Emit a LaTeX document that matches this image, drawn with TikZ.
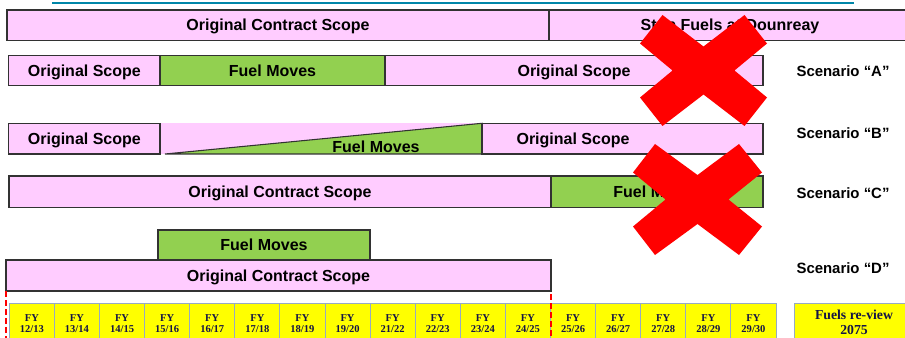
\documentclass[tikz,border=0pt]{standalone}
\usepackage{fontspec}
\newfontfamily\sansfam{Liberation Sans}
\newfontfamily\seriffam{Liberation Serif}
\definecolor{pinkc}{RGB}{255,204,255}
\definecolor{greenc}{RGB}{146,208,80}
\definecolor{yelc}{RGB}{255,255,0}
\definecolor{tealc}{RGB}{0,134,168}
\definecolor{boxline}{RGB}{50,50,50}
\definecolor{cellline}{RGB}{150,170,195}
\definecolor{navyc}{RGB}{20,20,70}
\definecolor{xred}{RGB}{255,0,0}
% \bx{style}{name}{x1}{y1}{x2}{y2}{text}  (coordinates in px)
\newcommand\bx[7]{\node[#1, minimum width={((#5)-(#3))*0.75pt}, minimum height={((#6)-(#4))*0.75pt}] (#2) at ({((#3)+(#5))/2},{((#4)+(#6))/2}) {#7};}
\begin{document}
\begin{tikzpicture}[x=0.75pt,y=-0.75pt,
 bar/.style={draw=boxline, line width=0.8pt, inner sep=0pt, text height=8.6pt, text depth=0pt, font=\sansfam\bfseries\fontsize{12pt}{14pt}\selectfont},
 pinkbar/.style={bar, fill=pinkc},
 greenbar/.style={bar, fill=greenc},
 bartext/.style={inner sep=0pt, text height=8.6pt, text depth=0pt, font=\sansfam\bfseries\fontsize{12pt}{14pt}\selectfont},
 scen/.style={inner sep=0pt, text height=8pt, text depth=0pt, font=\sansfam\bfseries\fontsize{11.2pt}{13pt}\selectfont},
 cell/.style={draw=cellline, line width=0.75pt, fill=yelc, inner sep=0pt, align=center, text=navyc, font=\seriffam\bfseries\fontsize{7.9pt}{8.25pt}\selectfont},
 review/.style={cell, font=\seriffam\bfseries\fontsize{10.3pt}{11.25pt}\selectfont},
 cross/.style={fill=xred, draw=none},
 cutline/.style={draw=xred, line width=1.5pt, dash pattern=on 4.5pt off 2.25pt},
 rule/.style={draw=tealc, line width=1.5pt}
]
\useasboundingbox (0,0) rectangle (905,338);

% top rule
\coordinate (r1) at (52,2.7);
\coordinate (r2) at (854,2.7);
\draw[rule] (r1) -- (r2);

% top bar
\bx{pinkbar}{top1}{7}{10}{549}{40.5}{Original Contract Scope}
\bx{pinkbar}{top2}{549}{10}{911}{40.5}{Stop Fuels at Dounreay}

% Scenario A
\bx{pinkbar}{a1}{8.7}{55.7}{160}{85.7}{Original Scope}
\bx{greenbar}{a2}{160}{55.7}{385}{85.7}{Fuel Moves}
\bx{pinkbar}{a3}{385}{55.7}{763}{85.7}{Original Scope}
\node[scen] (sa) at (843,71) {Scenario “A”};

% Scenario B
\fill[pinkc] (160,123.3) rectangle (482,154);
\bx{pinkbar}{b1}{8.7}{123.3}{160}{154}{Original Scope}
\filldraw[fill=greenc, draw=boxline, line width=0.8pt] (165,154) -- (482,123.3) -- (482,154) -- cycle;
\node[bartext] (b2) at (376,147) {Fuel Moves};
\bx{pinkbar}{b3}{482}{123.3}{763}{154}{}
\node[bartext] (b3t) at (573,139) {Original Scope};
\node[scen] (sb) at (843,133.5) {Scenario “B”};

% Scenario C
\bx{pinkbar}{c1}{9}{176}{551}{207.3}{Original Contract Scope}
\bx{greenbar}{c2}{551}{176}{763}{207.3}{Fuel Moves}
\node[scen] (sc) at (843,193.5) {Scenario “C”};

% Scenario D
\bx{greenbar}{d1}{158}{230}{370}{260}{Fuel Moves}
\bx{pinkbar}{d2}{6}{260}{551}{291}{Original Contract Scope}
\node[scen] (sd) at (843,268.5) {Scenario “D”};

% timeline
\foreach \a/\b [count=\i from 0] in {12/13,13/14,14/15,15/16,16/17,17/18,18/19,19/20,21/22,22/23,23/24,24/25,25/26,26/27,27/28,28/29,29/30}{
  \bx{cell}{fy\i}{9.3+45.1*\i}{303.3}{54.4+45.1*\i}{343.3}{FY\\\a/\b}
}
\bx{review}{rev}{794}{303.3}{914}{341.3}{Fuels re-view\\2075}

% red dashed limits
\coordinate (l1) at (6,291);
\coordinate (l2) at (6,340);
\coordinate (m1) at (551,294);
\coordinate (m2) at (551,340);
\draw[cutline] (l1) -- (l2);
\draw[cutline] (m1) -- (m2);

% red crosses
\fill[cross] (640,43.5) -- (662.5,15) -- (703.5,46.5) -- (744.5,15) -- (767,43.5) -- (734.5,70.5) -- (767,97.5) -- (744.5,126) -- (703.5,94.5) -- (662.5,126) -- (640,97.5) -- (672.5,70.5) -- cycle;
\fill[cross] (633,172.5) -- (655,144) -- (697.5,175) -- (739,144) -- (762,172.5) -- (728.5,199.5) -- (762,226.5) -- (739,255) -- (697.5,224) -- (655,255) -- (633,226.5) -- (665.5,199.5) -- cycle;
\end{tikzpicture}
\end{document}
